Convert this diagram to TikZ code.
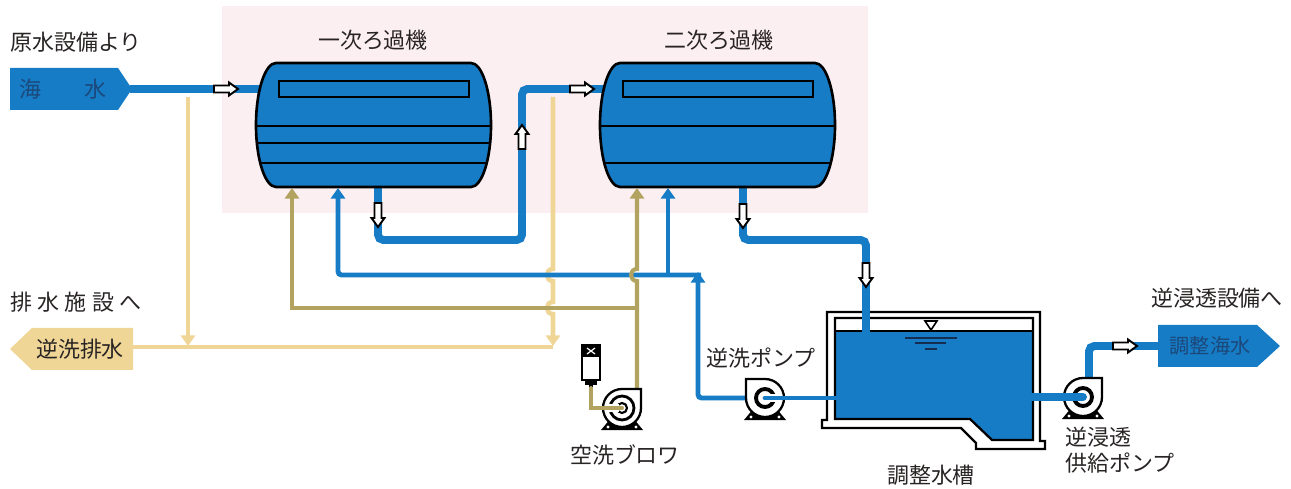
\documentclass[tikz,border=0pt]{standalone}
\usepackage{fontspec}
\setmainfont{Noto Sans CJK JP}
\usetikzlibrary{arrows.meta}
\definecolor{pipeblue}{RGB}{22,124,198}
\definecolor{drainbuff}{RGB}{240,214,150}
\definecolor{airolive}{RGB}{178,164,96}
\definecolor{roompink}{RGB}{252,239,241}
\definecolor{inkgray}{RGB}{40,36,36}
\definecolor{navytext}{RGB}{28,72,122}
\definecolor{levelnavy}{RGB}{20,45,80}

% shell of a horizontal filter vessel, origin at its top-left corner
\newcommand{\tankshell}{(0,0) -- (195,0) .. controls (206,0) and (215,28) .. (215,62) .. controls (215,96) and (206,124) .. (195,124) -- (0,124) .. controls (-11,124) and (-20,96) .. (-20,62) .. controls (-20,28) and (-11,0) .. (0,0) -- cycle}

\begin{document}
\begin{tikzpicture}[
		% one unit = one pixel of the sheet, y downwards
		x=0.02cm, y=-0.02cm,
		% 样式定义
		lbl/.style={font=\fontsize{12.5}{15}\selectfont, text=inkgray, inner sep=0pt},
		boxtext/.style={font=\fontsize{12.5}{15}\selectfont, inner sep=0pt},
		mainpipe/.style={draw=pipeblue, line width=4.5pt, rounded corners=3pt},
		bwline/.style={draw=pipeblue, line width=2.8pt, rounded corners=2pt},
		airline/.style={draw=airolive, line width=2.3pt},
		drainline/.style={draw=drainbuff, line width=2.6pt},
		headtip/.style={-{Triangle[width=8pt, length=6pt]}},
		outline/.style={draw=black, line width=1.3pt},
		pics/flowmark/.style={code={
				\draw[fill=white, line width=1.1pt] (-12,-3.5) -- (3,-3.5) -- (3,-6.5) -- (12,0) -- (3,6.5) -- (3,3.5) -- (-12,3.5) -- cycle;
		}},
		pics/filtertank/.style={code={
				\fill[pipeblue] \tankshell;
				\begin{scope}
					\clip \tankshell;
					\foreach \ly in {#1} \draw[line width=1.4pt] (-25,\ly) -- (220,\ly);
				\end{scope}
				\draw[line width=1.4pt] (3,18) rectangle (193,34);
				\draw[line width=1.5pt] \tankshell;
		}},
		pics/pumpcase/.style={code={
				\fill (-11,10) -- (11,10) -- (21,22) -- (-21,22) -- cycle;
				\fill[white] (-14,19) circle[radius=1.6] (14,19) circle[radius=1.6];
				\draw[fill=white, line width=1.3pt] (0,-19) .. controls (-10.5,-19) and (-19,-10.5) .. (-19,0) .. controls (-19,10.5) and (-10.5,19) .. (0,19) .. controls (10.5,19) and (19,10.5) .. (19,0) -- (19,-19) -- cycle;
		}},
		pics/pumpeye/.style={code={
				\draw[line width=2.2pt] (0,0) circle[radius=9];
				\draw[white, line width=5pt] (-13,0) -- (0,0);
		}},
		pics/blowereye/.style={code={
				\draw[line width=1.6pt] (0,0) circle[radius=12];
				\draw[line width=1.2pt] (0,0) circle[radius=5];
				\draw[white, line width=4pt] (-15,0) -- (-3,0);
		}}
		]
		
		\useasboundingbox (0,0) rectangle (1291,489);
		\fill[roompink] (222,6) rectangle (868,213);
		
		% ==========================================
		% 接続点
		% ==========================================
		\coordinate (seatip) at (130,89);
		\coordinate (draintip) at (133,347);
		\coordinate (t1in) at (268,89);
		\coordinate (t2in) at (612,89);
		\coordinate (t1out) at (378,180);
		\coordinate (t2out) at (743,180);
		\coordinate (t1air) at (292,188);
		\coordinate (t2air) at (637,188);
		\coordinate (t1bw) at (338,188);
		\coordinate (t2bw) at (668,188);
		\coordinate (regin) at (866,334);
		\coordinate (bwpump) at (765,398);
		\coordinate (blower) at (622,408);
		\coordinate (ropump) at (1083,397);
		\coordinate (rotip) at (1160,346);
		
		% ==========================================
		% 調整水槽
		% ==========================================
		\draw[outline, fill=white] (827,312) -- (1040,312) -- (1040,441) -- (1045,441) -- (1045,449) -- (976,449) -- (976,443) -- (961,428) -- (822,428) -- (822,420) -- (827,420) -- cycle;
		\fill[pipeblue] (835,331) -- (1033,331) -- (1033,440) -- (992,440) -- (970,419) -- (835,419) -- cycle;
		\draw[outline] (835,318) -- (1033,318) -- (1033,440) -- (992,440) -- (970,419) -- (835,419) -- cycle;
		\draw[line width=1pt] (835,331) -- (1033,331);
		% 水位
		\draw[line width=0.9pt, fill=white] (925,321) -- (937,321) -- (931,330) -- cycle;
		\draw[levelnavy, line width=1pt] (905,338) -- (957,338) (915,343) -- (946,343) (925,349) -- (937,349);
		
		% ==========================================
		% 主配管
		% ==========================================
		\draw[mainpipe] (seatip) -- (t1in);
		\draw[mainpipe] (t1out) |- (522,240) -- (522,89) -- (t2in);
		\draw[mainpipe] (t2out) |- (866,240) -- (regin);
		
		% 排水
		\draw[drainline] (draintip) -- (553,347);
		\draw[drainline, headtip] (188,97) -- (188,346);
		\draw[drainline, headtip] (553,97) -- (553,269) .. controls (545,269) and (545,281) .. (553,281) -- (553,302) .. controls (545,302) and (545,314) .. (553,314) -- (553,346);
		
		% ろ過機
		\pic at (276,63) {filtertank={63,80,100}};
		\pic at (620,63) {filtertank={63,100}};
		
		% 逆洗
		\draw[bwline, headtip] (701,275) -| (t1bw);
		\draw[bwline, headtip] (668,275) -- (t2bw);
		\draw[bwline, headtip] (750,398) -| (698,272);
		
		% 空洗
		\draw[airline, headtip] (637,392) -- (637,281) .. controls (629,281) and (629,269) .. (637,269) -- (t2air);
		\draw[airline, headtip] (637,308) -| (t1air);
		
		% ==========================================
		% ポンプ・ブロワ
		% ==========================================
		\draw[mainpipe] (1089,385) |- (rotip);
		
		\pic[xscale=-1] at (bwpump) {pumpcase};
		\pic[xscale=-1] at (bwpump) {pumpeye};
		\draw[bwline, line cap=round] (842,398) -- (bwpump);
		
		\pic at (ropump) {pumpcase};
		\pic at (ropump) {pumpeye};
		\draw[mainpipe, line cap=round] (1030,397) -- (ropump);
		
		\pic at (blower) {pumpcase};
		\pic at (blower) {blowereye};
		% モータ
		\draw[line width=1.2pt, fill=white] (582,345) rectangle (600,380);
		\fill (582,345) rectangle (600,357);
		\draw[white, line width=0.7pt] (587,348) -- (595,354) (587,354) -- (595,348);
		\fill (585,380) rectangle (597,385);
		\fill (589,385) rectangle (593,389);
		\draw[airline, line cap=round] (591,388) |- (blower);
		
		% 流れ方向
		\pic at (226,89) {flowmark};
		\pic[rotate=-90] at (378,215) {flowmark};
		\pic[rotate=90] at (522,137) {flowmark};
		\pic at (582,89) {flowmark};
		\pic[rotate=-90] at (743,216) {flowmark};
		\pic[rotate=-90] at (866,275) {flowmark};
		\pic at (1125,346) {flowmark};
		
		% ==========================================
		% 端末と文字
		% ==========================================
		\fill[pipeblue] (10,68) -- (118,68) -- (132,89) -- (118,110) -- (10,110) -- cycle;
		\node[boxtext, text=navytext] (sea) at (63,89) {海\hspace{25pt}水};
		\fill[drainbuff] (133,328) -- (133,370) -- (32,370) -- (10,349) -- (32,328) -- cycle;
		\node[boxtext, text=inkgray] (bwdrain) at (80,349) {逆洗排水};
		\fill[pipeblue] (1158,325) -- (1257,325) -- (1280,346) -- (1257,367) -- (1158,367) -- cycle;
		\node[boxtext, text=navytext, font=\fontsize{11.5}{14}\selectfont] (adjsea) at (1210,346) {調整海水};
		
		\node[lbl, anchor=west] (srclbl) at (10,42) {原水設備より};
		\node[lbl] (t1lbl) at (373,40) {一次ろ過機};
		\node[lbl] (t2lbl) at (719,40) {二次ろ過機};
		\node[lbl, anchor=west] (drainlbl) at (10,302) {排\hspace{3pt}水\hspace{3pt}施\hspace{3pt}設\hspace{3pt}へ};
		\node[lbl] (bwlbl) at (761,358) {逆洗ポンプ};
		\node[lbl] (blowlbl) at (625,455) {空洗ブロワ};
		\node[lbl] (reglbl) at (931,475) {調整水槽};
		\node[lbl] (rolbl) at (1217,298) {逆浸透設備へ};
		\node[lbl, anchor=west, align=left, font=\fontsize{12.5}{14.5}\selectfont] (ropumplbl) at (1065,450) {逆浸透\\供給ポンプ};
		
\end{tikzpicture}
\end{document}
